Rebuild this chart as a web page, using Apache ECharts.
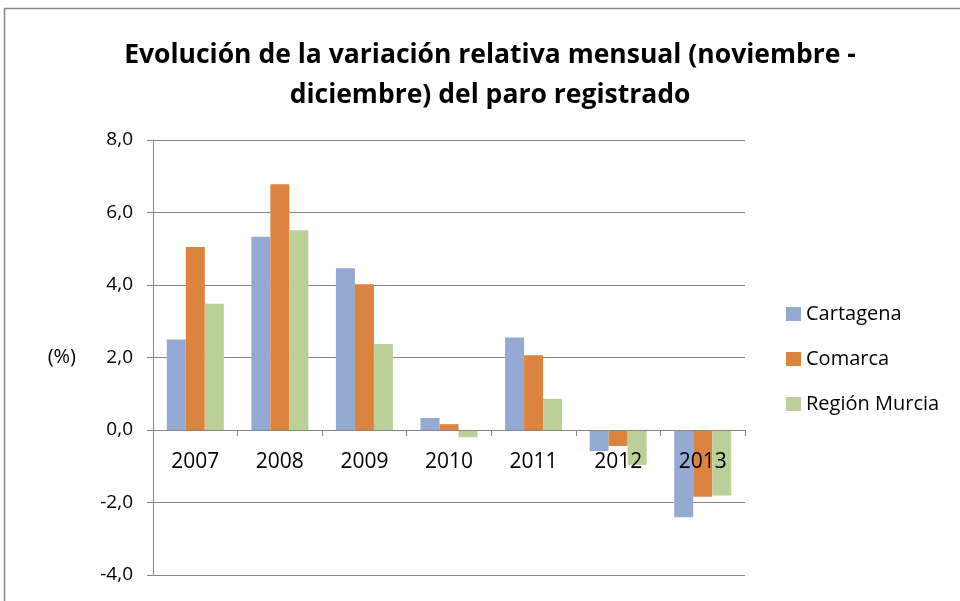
<!DOCTYPE html>
<html>
<head>
<meta charset="utf-8">
<script src="https://cdn.jsdelivr.net/npm/echarts@6/dist/echarts.min.js"></script>
<style>
  html, body { margin: 0; padding: 0; background: #fff; }
  #main { width: 960px; height: 601px; }
</style>
</head>
<body>
<div id="main"></div>
<script>
// datos (variacion %)
var years = ['2007', '2008', '2009', '2010', '2011', '2012', '2013'];
var cartagena = [2.5, 5.33, 4.46, 0.33, 2.55, -0.58, -2.41];
var comarca = [5.05, 6.78, 4.02, 0.16, 2.06, -0.44, -1.84];
var regionMurcia = [3.48, 5.51, 2.37, -0.2, 0.86, -0.96, -1.81];
var yTicks = [-4, -2, 0, 2, 4, 6, 8];

var font = 'Open Sans';
var gridTop = 140, gridBottom = 26;
var plotH = 601 - gridTop - gridBottom;
// el eje x va en el cero: lo subimos con offset
var yMin = yTicks[0], yMax = yTicks[yTicks.length - 1];
var zeroOffset = plotH * (0 - yMin) / (yMax - yMin);

var chart = echarts.init(document.getElementById('main'));

chart.setOption({
    animation: false,
    backgroundColor: '#fff',
    textStyle: { fontFamily: font },
    title: {
        text: 'Evolución de la variación relativa mensual (noviembre -\ndiciembre) del paro registrado',
        left: 485,
        top: 30,
        textAlign: 'center',
        textStyle: {
            fontFamily: font,
            fontSize: 26.5,
            fontWeight: 'bold',
            color: '#000',
            lineHeight: 40
        }
    },
    legend: {
        orient: 'vertical',
        left: 781,
        top: 299,
        itemGap: 25,
        itemWidth: 15,
        itemHeight: 14,
        icon: 'rect',
        textStyle: { fontSize: 20, color: '#000', fontFamily: font }
    },
    grid: { left: 153, right: 215, top: gridTop, bottom: gridBottom, containLabel: false, outerBoundsMode: 'none' },
    xAxis: {
        type: 'category',
        data: years,
        position: 'bottom',
        offset: -zeroOffset,
        z: 5,
        axisLine: { onZero: false, lineStyle: { color: '#868686', width: 1 } },
        axisTick: { show: true, length: 6, lineStyle: { color: '#868686' } },
        axisLabel: { fontSize: 21, color: '#000', margin: 22 },
        splitLine: { show: false }
    },
    yAxis: {
        type: 'value',
        min: yMin,
        max: yMax,
        interval: 2,
        name: '(%)',
        nameLocation: 'middle',
        nameRotate: 0,
        nameGap: 77,
        nameTextStyle: { fontSize: 20, color: '#000' },
        axisLine: { show: true, lineStyle: { color: '#868686' } },
        axisTick: { show: true, length: 6, lineStyle: { color: '#868686' } },
        axisLabel: {
            fontSize: 19,
            color: '#000',
            margin: 20,
            formatter: function (v) { return v.toFixed(1).replace('.', ','); }
        },
        splitLine: { lineStyle: { color: '#868686', width: 1 } }
    },
    series: [
        {
            name: 'Cartagena', type: 'bar', data: cartagena,
            barWidth: 19, barGap: '0%',
            itemStyle: { color: '#95aad2' }
        },
        {
            name: 'Comarca', type: 'bar', data: comarca,
            barWidth: 19, barGap: '0%',
            itemStyle: { color: '#dc843f' }
        },
        {
            name: 'Región Murcia', type: 'bar', data: regionMurcia,
            barWidth: 19, barGap: '0%',
            itemStyle: { color: '#bbcf98' }
        }
    ],
    graphic: [{
        type: 'rect',
        shape: { x: 4.5, y: 8.5, width: 1000, height: 700 },
        style: { fill: 'none', stroke: '#868686', lineWidth: 1.5 },
        silent: true
    }]
});
</script>
</body>
</html>
